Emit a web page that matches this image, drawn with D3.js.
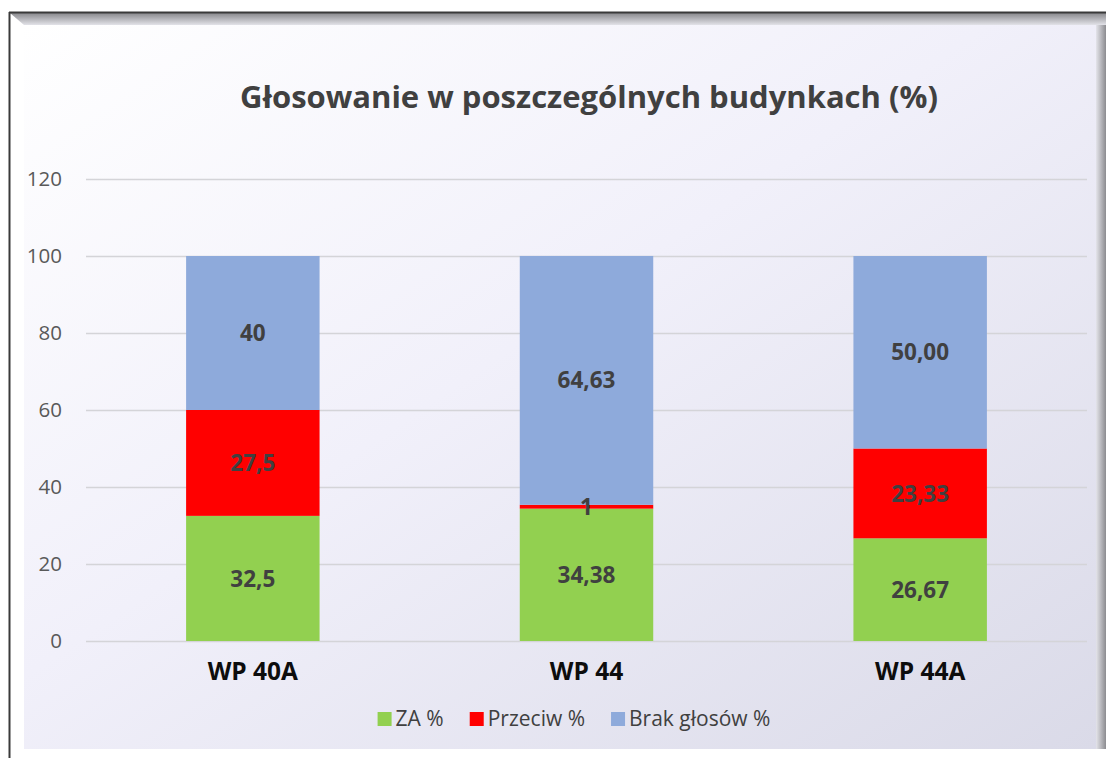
<!DOCTYPE html>
<html>
<head>
<meta charset="utf-8">
<script src="https://cdn.jsdelivr.net/npm/d3@7"></script>
<style>
  html, body { margin: 0; padding: 0; background: #fff; }
  svg { display: block; font-family: "Open Sans", "Noto Sans", sans-serif; }
</style>
</head>
<body>
<div id="chart"></div>
<script>
// chart data
var buildings = ["WP 40A", "WP 44", "WP 44A"];
var seriesNames = ["ZA %", "Przeciw %", "Brak głosów %"];
var seriesColors = ["#92d050", "#ff0000", "#8eaadb"];
var zaValues = [32.5, 34.38, 26.67];
var przeciwValues = [27.5, 1, 23.33];
var brakValues = [40, 64.63, 50.00];
var zaLabels = ["32,5", "34,38", "26,67"];
var przeciwLabels = ["27,5", "1", "23,33"];
var brakLabels = ["40", "64,63", "50,00"];
var yTicks = [0, 20, 40, 60, 80, 100, 120];

var width = 1106,
    height = 758;

var margin = {top: 179, right: 19, bottom: 117, left: 86};

var svg = d3.select("#chart")
  .append("svg")
  .attr("width", width)
  .attr("height", height);

var defs = svg.append("defs");

// panel background gradient
var bg = defs.append("linearGradient")
  .attr("id", "bg")
  .attr("x1", "0%").attr("y1", "0%")
  .attr("x2", "100%").attr("y2", "100%");
bg.append("stop").attr("offset", "0%").attr("stop-color", "#ffffff");
bg.append("stop").attr("offset", "45%").attr("stop-color", "#f1f0fa");
bg.append("stop").attr("offset", "100%").attr("stop-color", "#dadae8");

var bevel = defs.append("linearGradient")
  .attr("id", "bevel")
  .attr("x1", "0").attr("y1", "0")
  .attr("x2", "0").attr("y2", "1");
bevel.append("stop").attr("offset", "0%").attr("stop-color", "#88888c");
bevel.append("stop").attr("offset", "100%").attr("stop-color", "#e2e2e8");

var shade = defs.append("linearGradient")
  .attr("id", "shade")
  .attr("x1", "0").attr("y1", "0")
  .attr("x2", "1").attr("y2", "0");
shade.append("stop").attr("offset", "0%").attr("stop-color", "#e4e4ea");
shade.append("stop").attr("offset", "100%").attr("stop-color", "#8c8c90");

// frame
svg.append("polygon")
  .attr("points", "10,13 1106,13 1106,25 1100,25 24,25")
  .attr("fill", "url(#bevel)");
svg.append("rect")
  .attr("x", 1096).attr("y", 25)
  .attr("width", 10).attr("height", 724)
  .attr("fill", "url(#shade)");
svg.append("rect")
  .attr("x", 24).attr("y", 25)
  .attr("width", 1072).attr("height", 724)
  .attr("fill", "url(#bg)");
svg.append("line")
  .attr("x1", 9.5).attr("x2", 9.5)
  .attr("y1", 12).attr("y2", height)
  .attr("stroke", "#3a3a3a").attr("stroke-width", 2);
svg.append("line")
  .attr("x1", 9).attr("x2", width)
  .attr("y1", 12.5).attr("y2", 12.5)
  .attr("stroke", "#3a3a3a").attr("stroke-width", 2);

// title
svg.append("text")
  .attr("x", 589)
  .attr("y", 108)
  .attr("text-anchor", "middle")
  .attr("font-size", "31px")
  .attr("font-weight", "bold")
  .attr("fill", "#404040")
  .text("Głosowanie w poszczególnych budynkach (%)");

// scales
var x = d3.scaleBand()
  .domain(buildings)
  .range([margin.left, width - margin.right])
  .paddingInner(0.6)
  .paddingOuter(0.3);

var y = d3.scaleLinear()
  .domain([0, 120])
  .range([height - margin.bottom, margin.top]);

// gridlines
svg.append("g")
  .selectAll("line")
  .data(yTicks)
  .enter()
  .append("line")
  .attr("x1", margin.left)
  .attr("x2", width - margin.right)
  .attr("y1", function(d) { return Math.round(y(d)) + 0.5; })
  .attr("y2", function(d) { return Math.round(y(d)) + 0.5; })
  .attr("stroke", "#d4d4d8")
  .attr("stroke-width", 1.3);

// y axis labels
var yAxis = d3.axisLeft(y)
  .tickValues(yTicks)
  .tickSize(0)
  .tickPadding(24);
var yg = svg.append("g")
  .attr("transform", "translate(" + margin.left + ",0)")
  .call(yAxis);
yg.select(".domain").remove();
yg.selectAll("text")
  .attr("font-family", "'Open Sans', sans-serif")
  .attr("font-size", "20.5px")
  .attr("fill", "#595959");

// stacked data
var rows = buildings.map(function(b, i) {
  return {
    name: b,
    "ZA %": zaValues[i],
    "Przeciw %": przeciwValues[i],
    "Brak głosów %": brakValues[i],
    labels: [zaLabels[i], przeciwLabels[i], brakLabels[i]]
  };
});

var stack = d3.stack().keys(seriesNames);
var layers = stack(rows);

var layerG = svg.append("g")
  .selectAll("g")
  .data(layers)
  .enter()
  .append("g")
  .attr("fill", function(d, i) { return seriesColors[i]; });

layerG.selectAll("rect")
  .data(function(d) { return d; })
  .enter()
  .append("rect")
  .attr("x", function(d) { return x(d.data.name); })
  .attr("width", x.bandwidth())
  .attr("y", function(d) { return y(d[1]); })
  .attr("height", function(d) { return y(d[0]) - y(d[1]); });

// data labels
layers.forEach(function(layer, li) {
  svg.append("g")
    .selectAll("text")
    .data(layer)
    .enter()
    .append("text")
    .attr("x", function(d) { return x(d.data.name) + x.bandwidth() / 2; })
    .attr("y", function(d) { return (y(d[0]) + y(d[1])) / 2; })
    .attr("dy", "0.36em")
    .attr("text-anchor", "middle")
    .attr("font-size", "22.5px")
    .attr("font-weight", "bold")
    .attr("fill", "#404040")
    .text(function(d) { return d.data.labels[li]; });
});

// x axis labels
var xAxis = d3.axisBottom(x).tickSize(0).tickPadding(22);
var xg = svg.append("g")
  .attr("transform", "translate(0," + (height - margin.bottom) + ")")
  .call(xAxis);
xg.select(".domain").remove();
xg.selectAll("text")
  .attr("font-family", "'Open Sans', sans-serif")
  .attr("font-size", "24.5px")
  .attr("font-weight", "bold")
  .attr("fill", "#0d0d0d");

// legend
var legend = svg.append("g");
var lx = 0;
seriesNames.forEach(function(name, i) {
  var item = legend.append("g").attr("transform", "translate(" + lx + ",0)");
  item.append("rect")
    .attr("x", 0).attr("y", -7)
    .attr("width", 14).attr("height", 14)
    .attr("fill", seriesColors[i]);
  var t = item.append("text")
    .attr("x", 18)
    .attr("dy", "0.35em")
    .attr("font-size", "21px")
    .attr("fill", "#404040")
    .text(name);
  lx += 18 + t.node().getComputedTextLength() + 26;
});
var legendWidth = lx - 26;
legend.attr("transform", "translate(" + (574 - legendWidth / 2) + ",719)");
</script>
</body>
</html>
